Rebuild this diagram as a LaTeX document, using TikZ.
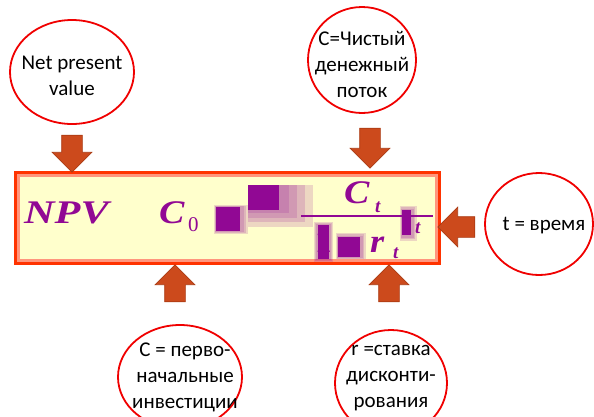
\documentclass[tikz,border=0pt]{standalone}
\usepackage{fontspec}
\setmainfont{Carlito}
\newfontfamily\formulafont{Liberation Serif}
\usetikzlibrary{shapes.geometric,shapes.arrows,positioning}
\definecolor{npvpurple}{RGB}{145,8,148}
\definecolor{boxyellow}{RGB}{255,255,204}
\definecolor{boxsalmon}{RGB}{255,150,125}
\definecolor{boxred}{RGB}{255,51,0}
\definecolor{arroworange}{RGB}{204,74,28}
\definecolor{arrowedge}{RGB}{170,58,18}
\definecolor{ringred}{RGB}{240,0,0}

\begin{document}
\begin{tikzpicture}[x=1pt, y=-1pt,
  every node/.style={font=\fontsize{21}{26}\selectfont},
  bubble/.style={draw=ringred, line width=1.8pt, fill=white, ellipse, inner sep=0pt},
  bubbletext/.style={align=center, inner sep=0pt},
  bigarrow/.style={single arrow, draw=arrowedge, fill=arroworange, line width=0.7pt, inner sep=10pt, minimum height=37pt, minimum width=39pt, single arrow head extend=9.5pt, single arrow tip angle=90},
  npvtext/.style={text=npvpurple, inner sep=0pt, anchor=base west, font=\formulafont\bfseries\itshape\fontsize{33}{33}\selectfont},
  npvsub/.style={text=npvpurple, inner sep=0pt, anchor=base west, font=\formulafont\bfseries\itshape\fontsize{19}{19}\selectfont},
  glitch/.style={fill=npvpurple},
  glitchhalo/.style={fill=npvpurple, opacity=0.16}]
\useasboundingbox (0,0) rectangle (594,416);

\node[fill=boxyellow, draw=boxsalmon, line width=6pt, minimum width=421pt, minimum height=88pt, inner sep=0pt] (npvbox) at (227.5,218) {};
\draw[boxred, line width=3pt] ([shift={(1.5,1.5)}]npvbox.north west) rectangle ([shift={(-1.5,-1.5)}]npvbox.south east);

\node[npvtext] (npv) at (24,223) {\scalebox{1.28}[1]{NPV}};
\node[npvtext] (czero) at (159,223) {\scalebox{1.15}[1]{C}};
\node[npvsub, font=\formulafont\fontsize{21}{21}\selectfont] (zero) at (188,231) {0};
\node[npvtext] (ct) at (344,203) {\scalebox{1.15}[1]{C}};
\node[npvsub] (ctsub) at (375,212) {t};
\draw[npvpurple, line width=1.5pt] (301,216) -- (433,216);
\node[npvtext, font=\formulafont\bfseries\fontsize{33}{33}\selectfont] (one) at (315,252) {1};
\node[npvtext] (rt) at (370,252) {\scalebox{1.1}[1]{r}};
\node[npvsub] (rtsub) at (393,258) {t};
\node[npvsub] (tend) at (415,233) {t};

% smeared glyphs
\foreach \d in {2,4,6} \fill[glitchhalo] (216-0.3*\d,207-0.3*\d) rectangle (242+\d,231+0.5*\d);
\fill[glitch] (216,207) rectangle (240,231);
\foreach \d in {6,14,22,30} \fill[glitchhalo] (248,185) rectangle (283+\d,210+0.55*\d);
\fill[glitch] (248,185) rectangle (279,210);
\foreach \d in {1,2,3} \fill[glitchhalo] (317-\d,225-\d) rectangle (330+\d,259+\d);
\fill[glitch] (318,225) rectangle (329,259);
\foreach \d in {1.5,3,4.5} \fill[glitchhalo] (338-0.5*\d,237-\d) rectangle (361+\d,257+0.5*\d);
\fill[glitch] (338,237) rectangle (360,257);
\foreach \d in {1.5,3,4.5} \fill[glitchhalo] (402-0.5*\d,210-\d) rectangle (412+\d,236+\d);
\fill[glitch] (402,210) rectangle (411,235);

\node[bubble, minimum width=124pt, minimum height=104pt] (npvdef) at (72,72) {};
\node[bubbletext] (npvdeftext) at (72,76) {Net present\\value};
\node[bubble, minimum width=108pt, minimum height=106pt] (cashflow) at (362,60) {};
\node[bubbletext] (cashflowtext) at (362,64) {C=Чистый\\денежный\\поток};
\node[bubble, minimum width=108pt, minimum height=102pt] (timedef) at (539,224) {};
\node[bubbletext] (timedeftext) at (544,226) {t = время};
\node[bubble, minimum width=124pt, minimum height=104pt] (invest) at (180,377) {};
\node[bubbletext] (investtext) at (185,377) {C = перво-\\начальные\\инвестиции};
\node[bubble, minimum width=112pt, minimum height=106pt] (rate) at (391,383) {};
\node[bubbletext] (ratetext) at (391,378) {r =ставка\\дисконти-\\рования};

\node[bigarrow, shape border rotate=270] (downa) at (72,148.5) {};
\node[bigarrow, shape border rotate=270, minimum height=40pt] (downb) at (370,143) {};
\node[bigarrow, shape border rotate=180] (lefta) at (461.5,227) {};
\node[bigarrow, shape border rotate=90] (upa) at (175,288.5) {};
\node[bigarrow, shape border rotate=90] (upb) at (389,288.5) {};
\end{tikzpicture}
\end{document}
